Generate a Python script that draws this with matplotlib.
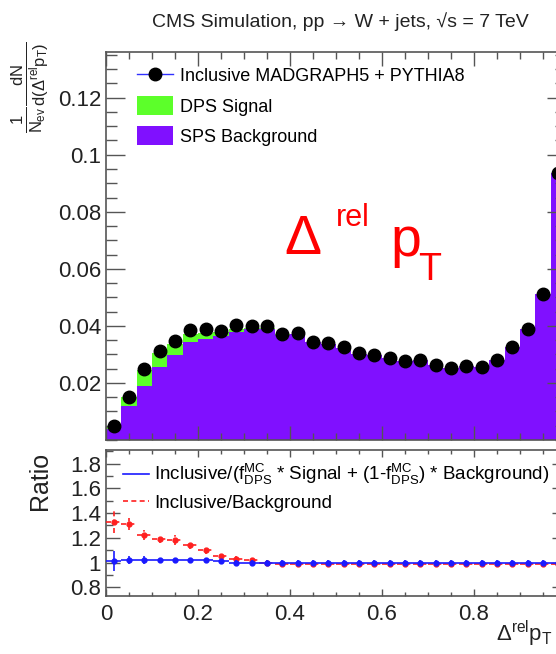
import numpy as np
import matplotlib
matplotlib.use("Agg")
from matplotlib import pyplot as plt
from matplotlib.lines import Line2D
from matplotlib.patches import Patch
from matplotlib.ticker import MultipleLocator, FormatStrFormatter

plt.rcParams["font.family"] = ["Liberation Sans", "DejaVu Sans"]
plt.rcParams["mathtext.fontset"] = "custom"
plt.rcParams["mathtext.rm"] = "Liberation Sans"
plt.rcParams["mathtext.it"] = "Liberation Sans"
plt.rcParams["mathtext.bf"] = "Liberation Sans:bold"

W, H = 556, 654

# 30 bins in delta_rel pT
edges = np.linspace(0, 1, 31)
centers = 0.5 * (edges[1:] + edges[:-1])

# inclusive MADGRAPH5 + PYTHIA8 (points)
inclusive = [0.0049, 0.0152, 0.0248, 0.0312, 0.0347, 0.0386, 0.0388, 0.0382, 0.0403, 0.0400,
             0.0398, 0.0371, 0.0374, 0.0344, 0.0339, 0.0326, 0.0304, 0.0298, 0.0289, 0.0278,
             0.0280, 0.0262, 0.0254, 0.0260, 0.0257, 0.0280, 0.0326, 0.0388, 0.0511, 0.0936]
# SPS background
sps_bkg = [0.0040, 0.0119, 0.0190, 0.0256, 0.0298, 0.0345, 0.0355, 0.0365, 0.0380, 0.0388,
           0.0390, 0.0368, 0.0371, 0.0342, 0.0337, 0.0324, 0.0303, 0.0297, 0.0288, 0.0277,
           0.0279, 0.0262, 0.0254, 0.0259, 0.0257, 0.0280, 0.0326, 0.0388, 0.0511, 0.0936]
# DPS signal (stacked on top)
dps_sig = [0.0009, 0.0033, 0.0055, 0.0050, 0.0040, 0.0025, 0.0020, 0.0013, 0.0008, 0.0005,
           0.0003, 0.0002, 0.0001, 0.0001, 0.0, 0.0, 0.0, 0.0, 0.0, 0.0,
           0.0, 0.0, 0.0, 0.0, 0.0, 0.0, 0.0, 0.0, 0.0, 0.0]

# ratios
ratio_sig = [1.01, 1.02, 1.02, 1.02, 1.02, 1.02, 1.02, 1.01, 1.00, 1.00,
             1.00, 1.00, 1.00, 1.00, 1.00, 1.00, 1.00, 1.00, 1.00, 1.00,
             1.00, 1.00, 1.00, 1.00, 1.00, 1.00, 1.00, 1.00, 1.00, 1.00]
ratio_sig_err = [0.08, 0.03, 0.03, 0.02, 0.02, 0.02, 0.02, 0.02, 0.02, 0.02,
                 0.02, 0.02, 0.02, 0.02, 0.02, 0.02, 0.02, 0.02, 0.02, 0.02,
                 0.02, 0.02, 0.02, 0.02, 0.02, 0.02, 0.02, 0.02, 0.02, 0.02]
ratio_bkg = [1.33, 1.31, 1.22, 1.19, 1.18, 1.14, 1.10, 1.05, 1.03, 1.02,
             1.00, 0.99, 0.99, 0.99, 0.99, 0.99, 0.99, 0.99, 0.99, 0.99,
             0.99, 0.99, 0.99, 0.99, 0.99, 0.99, 0.99, 0.99, 0.99, 0.99]
ratio_bkg_err = [0.09, 0.05, 0.04, 0.03, 0.04, 0.03, 0.03, 0.03, 0.02, 0.02,
                 0.02, 0.02, 0.02, 0.02, 0.02, 0.02, 0.02, 0.02, 0.02, 0.02,
                 0.02, 0.02, 0.02, 0.02, 0.02, 0.02, 0.02, 0.02, 0.02, 0.02]

x_ticks = [0, 0.2, 0.4, 0.6, 0.8]

purple = "#8010ff"
green = "#5cff2a"
frame_c = "#555555"


def fx(x):
    return x / W


def fy(y):
    return 1 - y / H


fig = plt.figure(figsize=(W / 100, H / 100), dpi=100)
ax1 = fig.add_axes([fx(106), fy(440), 460 / W, 388 / H])
ax2 = fig.add_axes([fx(106), fy(596), 460 / W, 146 / H])

# ---- top panel
bkg = np.array(sps_bkg)
tot = bkg + np.array(dps_sig)
ax1.stairs(bkg, edges, fill=True, color=purple, lw=0)
ax1.stairs(tot, edges, baseline=bkg, fill=True, color=green, lw=0)
ax1.plot(centers, inclusive, "o", color="black", ms=9, zorder=5)
ax1.set_xlim(0, 1)
ax1.set_ylim(0, 0.136)
ax1.xaxis.set_major_locator(MultipleLocator(0.2))
ax1.xaxis.set_minor_locator(MultipleLocator(0.05))
ax1.yaxis.set_minor_locator(MultipleLocator(0.005))
ax1.yaxis.set_major_formatter(FormatStrFormatter("%g"))
ax1.set_yticks([0.02, 0.04, 0.06, 0.08, 0.1, 0.12])
ax1.tick_params(axis="x", labelbottom=False)

handles = [Line2D([], [], color="#3030ff", lw=1, marker="o", mfc="black", mec="black", ms=9),
           Patch(facecolor=green, edgecolor="none"),
           Patch(facecolor=purple, edgecolor="none")]
labels = ["Inclusive MADGRAPH5 + PYTHIA8", "DPS Signal", "SPS Background"]
ax1.legend(handles, labels, loc="upper left", bbox_to_anchor=(fx(137), fy(66)),
           bbox_transform=fig.transFigure, frameon=False, fontsize=13,
           handlelength=2.0, handleheight=1.2, handletextpad=0.4, labelspacing=0.6,
           borderpad=0, borderaxespad=0)

# big red label
fig.text(fx(284), fy(254), "\u0394", color="red", fontsize=40, va="baseline")
fig.text(fx(336), fy(226), "rel", color="red", fontsize=22, va="baseline")
fig.text(fx(390), fy(256), "p", color="red", fontsize=40, va="baseline")
fig.text(fx(418), fy(280), "T", color="red", fontsize=27, va="baseline")

# ---- ratio panel
eb1 = ax2.errorbar(centers, ratio_sig, yerr=ratio_sig_err, xerr=1 / 60, fmt="o", ms=3.5,
                   color="#1a1aff", lw=1.2, capsize=0, zorder=4)
eb2 = ax2.errorbar(centers, ratio_bkg, yerr=ratio_bkg_err, xerr=1 / 60, fmt="o", ms=3.5,
                   color="#ff2020", lw=1.2, capsize=0, zorder=3)
for lc in eb2[2]:
    lc.set_linestyle((0, (3, 2)))
ax2.set_xlim(0, 1)
ax2.set_ylim(0.73, 1.91)
ax2.set_xticks(x_ticks, ["%g" % v for v in x_ticks])
ax2.xaxis.set_minor_locator(MultipleLocator(0.05))
ax2.set_yticks([0.8, 1, 1.2, 1.4, 1.6, 1.8])
ax2.yaxis.set_minor_locator(MultipleLocator(0.1))
ax2.yaxis.set_major_formatter(FormatStrFormatter("%g"))

h2 = [Line2D([], [], color="#1a1aff", lw=1.2),
      Line2D([], [], color="#ff2020", lw=1.2, ls=(0, (3, 2)))]
l2 = [r"Inclusive/(f$^{MC}_{DPS}$ * Signal + (1-f$^{MC}_{DPS}$) * Background)",
      "Inclusive/Background"]
ax2.legend(h2, l2, loc="upper left", bbox_to_anchor=(fx(123), fy(462)),
           bbox_transform=fig.transFigure, frameon=False, fontsize=13.5,
           handlelength=1.4, handletextpad=0.25, labelspacing=0.4,
           borderpad=0, borderaxespad=0)

for ax in (ax1, ax2):
    for s in ax.spines.values():
        s.set_color(frame_c)
        s.set_linewidth(1.2)
    ax.tick_params(which="both", direction="in", top=True, right=True, colors=frame_c,
                   labelcolor="#222222", labelsize=16, width=1)
ax1.tick_params(axis="y", which="major", length=14)
ax1.tick_params(axis="y", which="minor", length=8)
ax1.tick_params(axis="x", which="major", length=10)
ax1.tick_params(axis="x", which="minor", length=5)
ax2.tick_params(axis="x", which="major", length=5, pad=6)
ax2.tick_params(axis="x", which="minor", length=3)
ax2.tick_params(axis="y", which="major", length=10)
ax2.tick_params(axis="y", which="minor", length=5)

# titles and axis labels
fig.text(fx(340), fy(22), "CMS Simulation, pp \u2192 W + jets, \u221as = 7 TeV",
         fontsize=14, ha="center", va="center", color="#222222")
fig.text(fx(30), fy(42), r"$\frac{1}{N_{ev}}\frac{dN}{d(\Delta^{rel}p_{T})}$",
         rotation=90, fontsize=17, ha="center", va="top", color="#222222")
fig.text(fx(40), fy(452), "Ratio", rotation=90, fontsize=18, ha="center", va="top",
         color="#222222")
fig.text(fx(553), fy(641), r"$\Delta^{rel}$p$_{T}$", fontsize=16, ha="right",
         va="baseline", color="#222222")

fig.savefig("out.png", dpi=100)
